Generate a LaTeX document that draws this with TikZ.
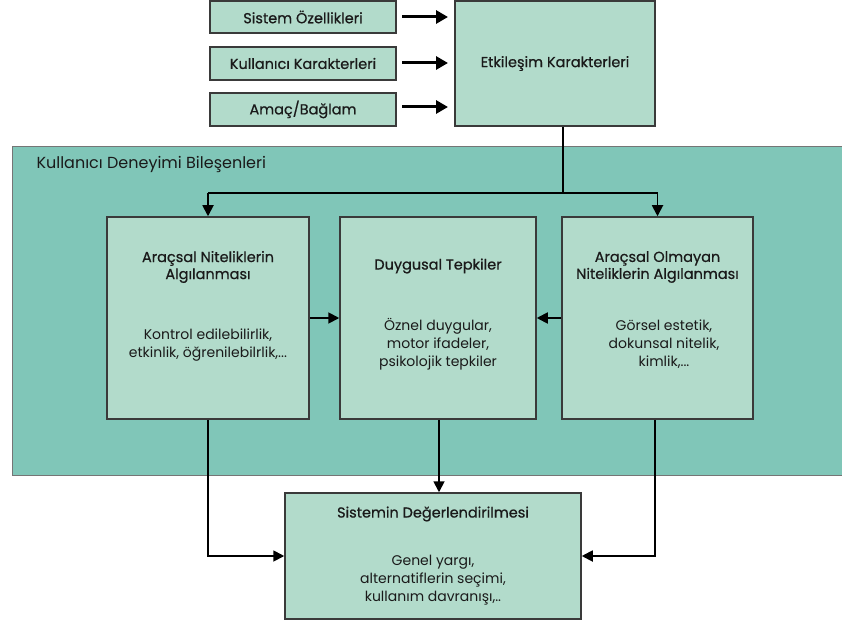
\documentclass[tikz,border=0pt]{standalone}
\usepackage{fontspec}
\setmainfont{Poppins}
\newfontfamily\headfont{Poppins}[FakeBold=0.6]
\usetikzlibrary{arrows.meta}
\definecolor{panelfill}{HTML}{80C6B8}
\definecolor{boxfill}{HTML}{B2DBCB}
\definecolor{boxline}{HTML}{3A3A3A}
\definecolor{ink}{HTML}{1A1A1A}
\tikzset{
  box/.style={draw=boxline, line width=1.5pt, fill=boxfill, inner sep=0pt},
  title/.style={font=\headfont\fontsize{14.5}{17}\selectfont, text=ink, align=center},
  body/.style={font=\fontsize{14}{18}\selectfont, text=ink, align=center},
  flow/.style={draw=black, line width=1.8pt, -{Triangle[length=11pt, width=11pt]}},
  feed/.style={draw=black, line width=3pt, -{Triangle[length=12pt, width=13pt]}},
}
\begin{document}
\begin{tikzpicture}[x=1pt, y=-1pt]
\useasboundingbox (0,0) rectangle (842,628);

% outer panel
\node[draw=boxline!70, line width=1pt, fill=panelfill, minimum width=831pt, minimum height=328pt, inner sep=0pt] (panel) at (427.5,311) {};
\node[title, font=\fontsize{16}{18}\selectfont, anchor=west] (paneltitle) at (33,164) {Kullanıcı Deneyimi Bileşenleri};

% input boxes
\node[box, minimum width=186pt, minimum height=32pt] (s1) at (303,17) {};
\node[box, minimum width=186pt, minimum height=33pt] (s2) at (303,63.5) {};
\node[box, minimum width=186pt, minimum height=33pt] (s3) at (303,109.5) {};
\node[title] (s1t) at (s1) {Sistem Özellikleri};
\node[title] (s2t) at (s2) {Kullanıcı Karakterleri};
\node[title] (s3t) at (s3) {Amaç/Bağlam};

\node[box, minimum width=200pt, minimum height=125pt] (ek) at (555,63.5) {};
\node[title] (ekt) at (ek) {Etkileşim Karakterleri};

% component boxes
\node[box, minimum width=202pt, minimum height=202pt] (L) at (208,318) {};
\node[box, minimum width=196pt, minimum height=202pt] (M) at (438,318) {};
\node[box, minimum width=191pt, minimum height=202pt] (R) at (657.5,318) {};

\node[title] (Lt) at (208,267) {Araçsal Niteliklerin\\Algılanması};
\node[body] (Lb) at (208,345) {Kontrol edilebilirlik,\\etkinlik, öğrenilebilrlik,...};
\node[title] (Mt) at (438,266) {Duygusal Tepkiler};
\node[body] (Mb) at (438,344) {Öznel duygular,\\motor ifadeler,\\psikolojik tepkiler};
\node[title] (Rt) at (657.5,267) {Araçsal Olmayan\\Niteliklerin Algılanması};
\node[body] (Rb) at (664,344) {Görsel estetik,\\dokunsal nitelik,\\kimlik,...};

% evaluation box
\node[box, minimum width=296pt, minimum height=126pt] (B) at (433,556) {};
\node[title] (Bt) at (433,514) {Sistemin Değerlendirilmesi};
\node[body] (Bb) at (433,580) {Genel yargı,\\alternatiflerin seçimi,\\kullanım davranışı,..};

% inputs into interaction characteristics
\draw[feed] (402,17) coordinate (f1) -- (f1 -| {448,0});
\draw[feed] (402,63) coordinate (f2) -- (f2 -| {448,0});
\draw[feed] (402,107) coordinate (f3) -- (f3 -| {448,0});

% split into the perception boxes
\coordinate (split) at (563,193);
\draw[draw=black, line width=1.6pt] ([xshift=8pt]ek.south) -- (split);
\draw[draw=black, line width=2.4pt] (L.north |- split) -- (R.north |- split);
\draw[flow] (L.north |- split) -- (L.north);
\draw[flow] (R.north |- split) -- (R.north);

% towards emotional reactions
\draw[flow] (L.east) -- (M.west);
\draw[flow] (R.west) -- (M.east);

% towards evaluation
\draw[flow] (L.south) |- (B.west);
\draw[flow] ([xshift=1pt]M.south) -- ([xshift=1pt]M.south |- B.north);
\draw[flow] ([xshift=-2.5pt]R.south) |- (B.east);
\end{tikzpicture}
\end{document}
